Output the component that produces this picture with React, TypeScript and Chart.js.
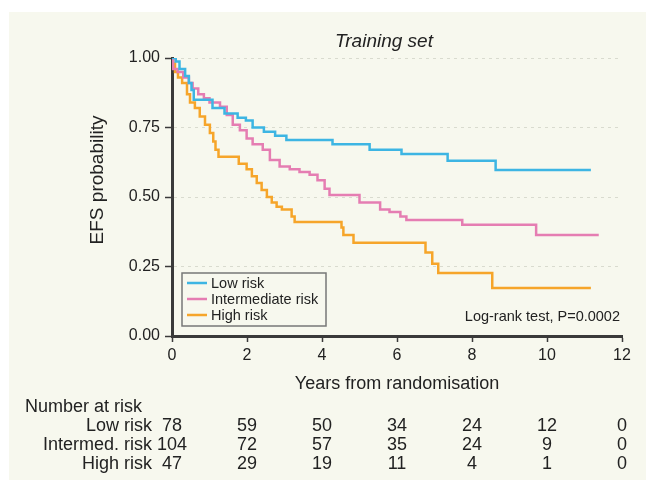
import React, { useEffect, useRef } from "react";
import { Chart, registerables } from "chart.js";

Chart.register(...registerables);

// ---- Data ----
const seriesLabels = ["Low risk", "Intermediate risk", "High risk"];

const lowTimes = [0, 0.1, 0.2, 0.35, 0.45, 0.52, 0.58, 1.08, 1.4, 1.75, 1.97, 2.15, 2.45, 2.75, 3.05, 4.28, 5.27, 6.12, 7.35, 8.63, 11.17];
const lowSurv = [1, 0.987, 0.96, 0.935, 0.91, 0.885, 0.85, 0.82, 0.8, 0.785, 0.775, 0.75, 0.735, 0.72, 0.705, 0.69, 0.67, 0.655, 0.63, 0.597, 0.597];

const intTimes = [0, 0.03, 0.15, 0.3, 0.45, 0.55, 0.7, 0.85, 1.0, 1.28, 1.46, 1.62, 1.81, 1.99, 2.15, 2.42, 2.61, 2.87, 3.14, 3.4, 3.67, 3.88, 4.07, 4.2, 5.0, 5.55, 5.8, 6.09, 6.25, 7.74, 9.71, 11.38];
const intSurv = [1, 0.96, 0.95, 0.93, 0.91, 0.89, 0.87, 0.855, 0.84, 0.825, 0.795, 0.76, 0.74, 0.71, 0.69, 0.67, 0.633, 0.61, 0.6, 0.59, 0.58, 0.56, 0.53, 0.507, 0.48, 0.455, 0.446, 0.43, 0.417, 0.4, 0.363, 0.363];

const highTimes = [0, 0.03, 0.08, 0.16, 0.27, 0.4, 0.48, 0.61, 0.74, 0.88, 1.01, 1.1, 1.16, 1.24, 1.78, 1.99, 2.13, 2.26, 2.39, 2.53, 2.66, 2.79, 2.93, 3.19, 3.27, 4.52, 4.57, 4.84, 6.76, 6.94, 7.1, 8.54, 11.17];
const highSurv = [1, 0.98, 0.95, 0.93, 0.91, 0.87, 0.84, 0.82, 0.79, 0.76, 0.73, 0.7, 0.67, 0.645, 0.62, 0.6, 0.575, 0.55, 0.525, 0.5, 0.48, 0.465, 0.455, 0.43, 0.41, 0.39, 0.363, 0.335, 0.3, 0.26, 0.227, 0.173, 0.173];

const xTicks = [0, 2, 4, 6, 8, 10, 12];
const yTicks = [0, 0.25, 0.5, 0.75, 1.0];

const riskRowLabels = ["Low risk", "Intermed. risk", "High risk"];
const riskLow = [78, 59, 50, 34, 24, 12, 0];
const riskInt = [104, 72, 57, 35, 24, 9, 0];
const riskHigh = [47, 29, 19, 11, 4, 1, 0];

const titleText = "Training set";
const xTitle = "Years from randomisation";
const yTitle = "EFS probability";
const riskTitle = "Number at risk";
const testText = "Log-rank test, P=0.0002";

// ---- Styles ----
const COLORS = ["#3db5e3", "#e57db2", "#f6a52a"];
const FONT = "'Liberation Sans', Arial, Helvetica, sans-serif";
const TEXT = "#222222";
const AXIS = "#3a3a3a";
const CREAM = "#f7f8ee";

function pts(t: number[], s: number[]) {
  return t.map((x, i) => ({ x, y: s[i] }));
}

const decorPlugin = {
  id: "decor",
  beforeDraw(chart: any) {
    const ctx = chart.ctx;
    ctx.save();
    ctx.fillStyle = "#ffffff";
    ctx.fillRect(0, 0, chart.width, chart.height);
    ctx.fillStyle = CREAM;
    ctx.fillRect(9, 12, chart.width - 9, 468);
    ctx.restore();
  },
  afterDraw(chart: any) {
    const ctx = chart.ctx;
    const xs = chart.scales.x;
    const area = chart.chartArea;
    ctx.save();
    ctx.fillStyle = TEXT;

    // title
    ctx.font = `italic 19px ${FONT}`;
    ctx.textAlign = "center";
    ctx.textBaseline = "middle";
    ctx.fillText(titleText, 384, 42);

    // x title
    ctx.font = `18px ${FONT}`;
    ctx.fillText(xTitle, (area.left + area.right) / 2, 384);

    // y title
    ctx.save();
    ctx.translate(98, 180);
    ctx.rotate(-Math.PI / 2);
    ctx.font = `19px ${FONT}`;
    ctx.fillText(yTitle, 0, 0);
    ctx.restore();

    // log-rank
    ctx.font = `14.5px ${FONT}`;
    ctx.textAlign = "right";
    ctx.fillText(testText, 620, 317);

    // legend
    const lx = 182, ly = 273, lw = 144, lh = 53;
    ctx.fillStyle = CREAM;
    ctx.fillRect(lx, ly, lw, lh);
    ctx.strokeStyle = "#777777";
    ctx.lineWidth = 1.5;
    ctx.strokeRect(lx, ly, lw, lh);
    ctx.font = `14.5px ${FONT}`;
    ctx.textAlign = "left";
    seriesLabels.forEach((lab, i) => {
      const y = 283 + i * 16;
      ctx.strokeStyle = COLORS[i];
      ctx.lineWidth = 2.5;
      ctx.beginPath();
      ctx.moveTo(187, y);
      ctx.lineTo(207, y);
      ctx.stroke();
      ctx.fillStyle = TEXT;
      ctx.fillText(lab, 211, y + 1);
    });

    // risk table
    ctx.font = `18px ${FONT}`;
    ctx.fillStyle = TEXT;
    ctx.textAlign = "left";
    ctx.fillText(riskTitle, 25, 407);
    const rows = [riskLow, riskInt, riskHigh];
    rows.forEach((row, r) => {
      const y = 426 + r * 19;
      ctx.textAlign = "right";
      ctx.fillText(riskRowLabels[r], 152, y);
      ctx.textAlign = "center";
      row.forEach((v, i) => {
        ctx.fillText(String(v), xs.getPixelForValue(xTicks[i]), y);
      });
    });
    ctx.restore();
  },
};

export default function App() {
  const ref = useRef<HTMLCanvasElement | null>(null);
  useEffect(() => {
    if (!ref.current) return;
    const tickFont = { family: FONT, size: 16 };
    const chart = new Chart(ref.current, {
      type: "line",
      data: {
        datasets: [
          { label: seriesLabels[0], data: pts(lowTimes, lowSurv), borderColor: COLORS[0] },
          { label: seriesLabels[1], data: pts(intTimes, intSurv), borderColor: COLORS[1] },
          { label: seriesLabels[2], data: pts(highTimes, highSurv), borderColor: COLORS[2] },
        ].map((d) => ({ ...d, stepped: "before" as const, borderWidth: 2.5, pointRadius: 0, fill: false, tension: 0 })),
      },
      options: {
        animation: false,
        responsive: false,
        layout: { padding: { top: 58, right: 24, bottom: 0, left: 0 } },
        plugins: { legend: { display: false }, tooltip: { enabled: false }, title: { display: false } },
        scales: {
          x: {
            type: "linear",
            min: 0,
            max: 12,
            afterBuildTicks: (s: any) => { s.ticks = xTicks.map((v) => ({ value: v })); },
            ticks: { font: tickFont, color: TEXT, padding: 4 },
            grid: { drawOnChartArea: false, tickLength: 6, tickColor: AXIS, tickWidth: 1.5 },
            border: { color: AXIS, width: 3 },
            afterFit: (s: any) => { s.height = 149; },
          },
          y: {
            type: "linear",
            min: 0,
            max: 1,
            afterBuildTicks: (s: any) => { s.ticks = yTicks.map((v) => ({ value: v })); },
            ticks: { font: tickFont, color: TEXT, padding: 5, callback: (v: any) => Number(v).toFixed(2) },
            grid: {
              color: (c: any) => (c.tick && c.tick.value === 0 ? "rgba(0,0,0,0)" : "#d9dbcf"),
              lineWidth: 1,
              tickLength: 7,
              tickColor: AXIS,
              tickWidth: 1.5,
            },
            border: { color: AXIS, width: 3, dash: [3, 4] },
            afterFit: (s: any) => { s.width = 172; },
          },
        },
      },
      plugins: [decorPlugin],
    } as any);
    return () => chart.destroy();
  }, []);
  return (
    <div style={{ position: "fixed", left: 0, top: 0, width: 646, height: 485, background: "#fff" }}>
      <canvas ref={ref} width={646} height={485} style={{ width: 646, height: 485, display: "block" }} />
    </div>
  );
}
